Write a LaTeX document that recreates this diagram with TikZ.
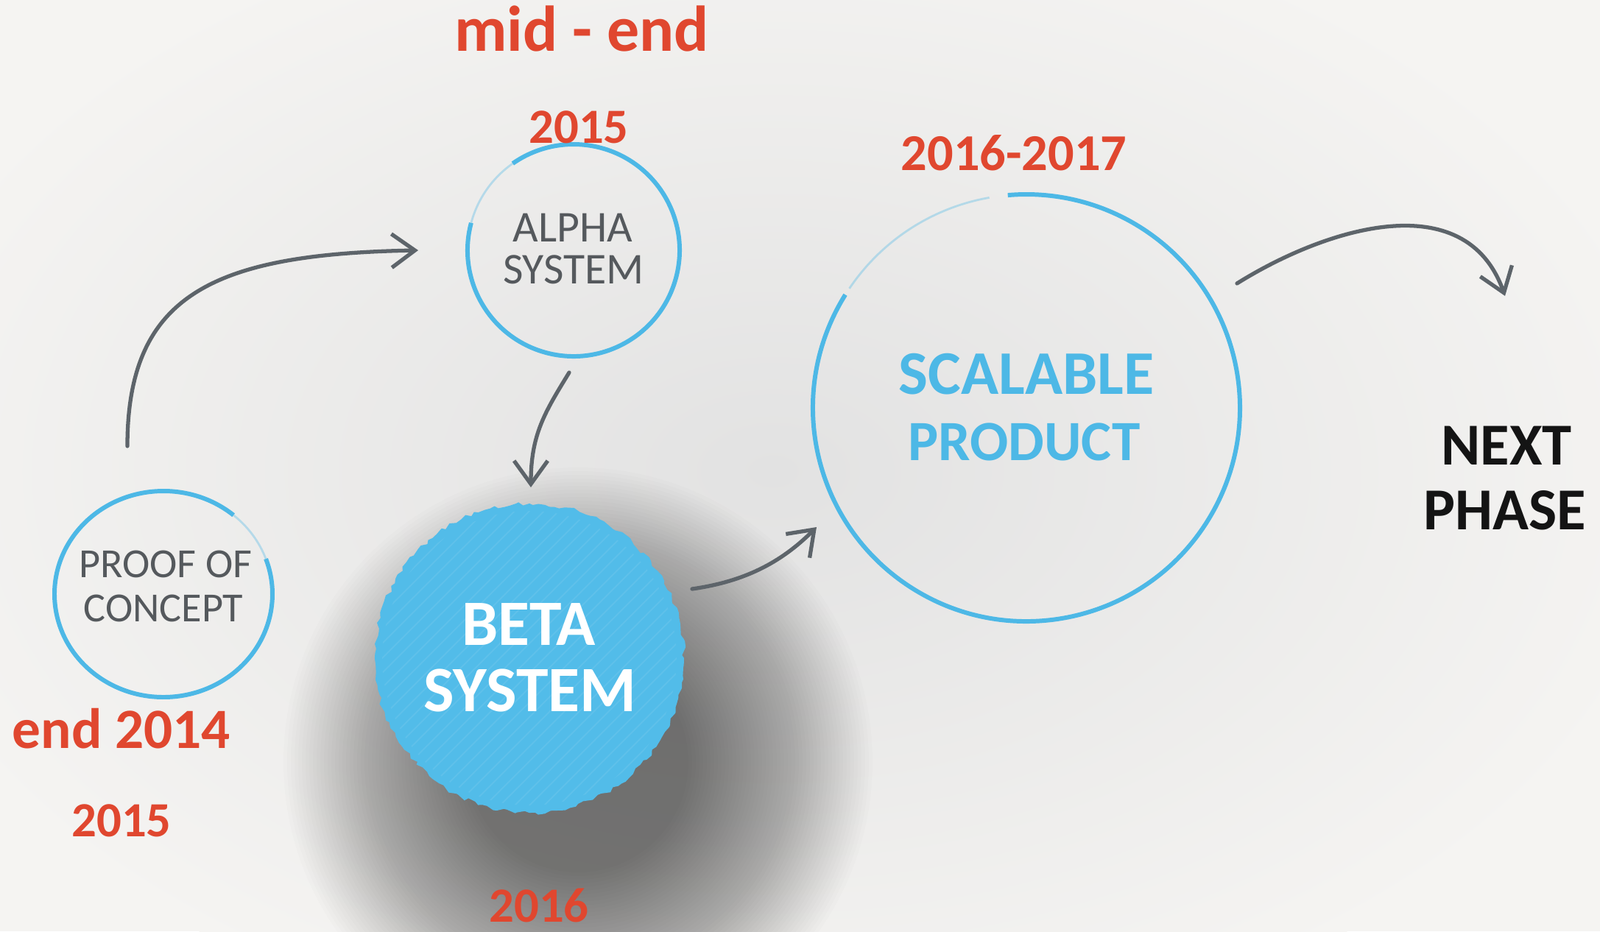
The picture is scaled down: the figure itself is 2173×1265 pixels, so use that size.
\documentclass[tikz,border=0pt]{standalone}
\usepackage{fontspec}
\setmainfont{Carlito}
\usetikzlibrary{arrows.meta,decorations.pathmorphing}
\definecolor{bgcol}{HTML}{F5F4F2}
\definecolor{vigcol}{HTML}{E2E2E2}
\definecolor{redlab}{HTML}{E0472F}
\definecolor{blueline}{HTML}{4DB8E6}
\definecolor{betablue}{HTML}{52BCE9}
\definecolor{graytxt}{HTML}{55595D}
\definecolor{arrowgray}{HTML}{5D646A}
\definecolor{nearblack}{HTML}{141414}
\newcommand{\fsz}[1]{\fontsize{#1pt}{#1pt}\selectfont}
\begin{document}
\begin{tikzpicture}[x=0.1mm,y=-0.1mm,
  redtxt/.style={text=redlab, anchor=base, inner sep=0pt},
  lbl/.style={anchor=base, inner sep=0pt},
  ring/.style={draw=blueline, line width=1.7pt},
  faintring/.style={draw=blueline, line width=0.8pt, opacity=0.35},
  flow/.style={draw=arrowgray, line width=1.5pt, line cap=round,
    -{Straight Barb[length=9pt,width=13pt,line width=1.5pt]}}
]
\useasboundingbox (0,0) rectangle (2173,1265);
\clip (0,0) rectangle (2173,1265);
% background
\fill[bgcol] (0,0) rectangle (2173,1265);
\shade[inner color=vigcol, outer color=bgcol] (1050,640) ellipse (1250 and 800);
% shadow of beta
\foreach \r in {150,155,...,400} \fill[black, opacity=0.013] (785,1035) circle (\r);
% beta filled circle
\fill[betablue, decorate, decoration={random steps,segment length=2pt,amplitude=0.8pt}] (719,894) circle (210);
\begin{scope}
  \clip (719,894) circle (200);
  \foreach \k in {-420,-400,...,420}
    \draw[white, opacity=0.08, line width=0.5pt] (719+\k-300,894+300) -- (719+\k+300,894-300);
\end{scope}
% rings
\draw[ring] (779,340) ++(-165:144) arc[start angle=-165, end angle=-485, radius=144];
\draw[faintring] (779,340) ++(-125:144) arc[start angle=-125, end angle=-165, radius=144];
\draw[ring] (222,807) ++(-50:148 and 140) arc[start angle=-50, end angle=-380, x radius=148, y radius=140];
\draw[faintring] (222,807) ++(-20:148 and 140) arc[start angle=-20, end angle=-50, x radius=148, y radius=140];
\draw[ring] (1394,554) ++(-148:290) arc[start angle=-148, end angle=-455, radius=290];
\draw[faintring] (1394,554) ++(-100:290) arc[start angle=-100, end angle=-146, radius=290];
% connectors
\coordinate (a1s) at (173,606); \coordinate (a1e) at (568,340);
\coordinate (a2s) at (773,506); \coordinate (a2e) at (721,662);
\coordinate (a3s) at (940,800); \coordinate (a3e) at (1109,716);
\coordinate (a4s) at (1680,385); \coordinate (a4e) at (2044,402);
\draw[flow] (a1s) .. controls (173,400) and (290,345) .. (a1e);
\draw[flow] (a2s) .. controls (740,560) and (721,590) .. (a2e);
\draw[flow] (a3s) .. controls (1010,790) and (1060,765) .. (a3e);
\draw[flow] (a4s) .. controls (1800,310) and (1990,250) .. (a4e);
% red labels
\node[redtxt, font=\bfseries\fsz{25}] (midend) at (790,69) {mid - end};
\node[redtxt, font=\bfseries\fsz{19}] (y2015a) at (786,194) {2015};
\node[redtxt, font=\bfseries\fsz{20}] (y1617) at (1377,231) {2016-2017};
\node[redtxt, font=\bfseries\fsz{22}] (end14) at (165,1016) {end 2014};
\node[redtxt, font=\bfseries\fsz{19}] (y2015b) at (165,1136) {2015};
\node[redtxt, font=\bfseries\fsz{19}] (y2016) at (732,1252) {2016};
% circle labels
\node[lbl, text=graytxt, font=\fsz{17}] (alpha1) at (778,328) {ALPHA};
\node[lbl, text=graytxt, font=\fsz{17}] (alpha2) at (779,385) {SYSTEM};
\node[lbl, text=graytxt, font=\fsz{16}] (proof1) at (225,784) {PROOF OF};
\node[lbl, text=graytxt, font=\fsz{16}] (proof2) at (222,844) {CONCEPT};
\node[lbl, text=white, font=\bfseries\fsz{25}] (beta1) at (718,876) {BETA};
\node[lbl, text=white, font=\bfseries\fsz{25}] (beta2) at (720,966) {SYSTEM};
\node[lbl, text=blueline, font=\bfseries\fsz{24}] (scal1) at (1394,535) {SCALABLE};
\node[lbl, text=blueline, font=\bfseries\fsz{22}] (scal2) at (1391,625) {PRODUCT};
\node[lbl, text=nearblack, font=\bfseries\fsz{23}] (next1) at (2046,631) {NEXT};
\node[lbl, text=nearblack, font=\bfseries\fsz{23}] (next2) at (2044,719) {PHASE};
\end{tikzpicture}
\end{document}
